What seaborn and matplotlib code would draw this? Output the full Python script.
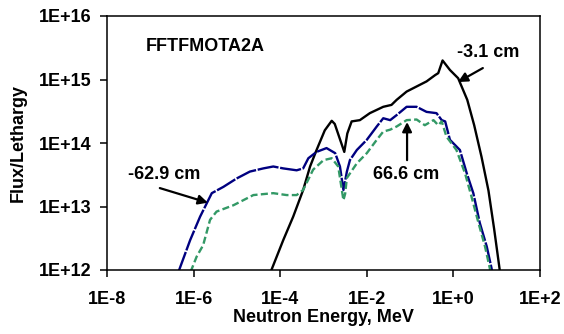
import numpy as np
import pandas as pd
import matplotlib
matplotlib.use("Agg")
import matplotlib.pyplot as plt
import seaborn as sns

# ---- data (log10 of energy in MeV, log10 of flux/lethargy) ----
black_logE = [-4.22, -3.93, -3.70, -3.47, -3.31, -3.16, -2.97, -2.81, -2.74, -2.52,
              -2.45, -2.35, -2.16, -1.93, -1.62, -1.43, -1.31, -1.08, -0.85, -0.62, -0.42,
              -0.35, -0.25, -0.08, 0.11, 0.32, 0.48, 0.65, 0.81, 0.94, 1.02, 1.08]
black_logF = [11.97, 12.47, 12.84, 13.26, 13.63, 13.89, 14.20, 14.35, 14.30, 13.86,
              14.15, 14.34, 14.36, 14.47, 14.57, 14.60, 14.68, 14.81, 14.89, 14.97, 15.07,
              15.10, 15.30, 15.15, 15.02, 14.68, 14.28, 13.78, 13.25, 12.65, 12.25, 11.95]

blue_logE = [-6.35, -6.08, -5.85, -5.58, -5.31, -5.01, -4.70, -4.39, -4.16, -3.93,
             -3.62, -3.47, -3.35, -3.16, -2.93, -2.73, -2.62, -2.54, -2.46, -2.39,
             -2.23, -2.00, -1.77, -1.62, -1.46, -1.31, -1.08, -0.85, -0.62, -0.39,
             -0.27, -0.19, -0.08, 0.15, 0.31, 0.46, 0.61, 0.77, 0.88, 0.90]
blue_logF = [11.97, 12.47, 12.84, 13.21, 13.31, 13.44, 13.55, 13.60, 13.63, 13.60,
             13.57, 13.60, 13.76, 13.86, 13.92, 13.84, 13.63, 13.26, 13.55, 13.73,
             13.89, 14.05, 14.26, 14.39, 14.36, 14.44, 14.57, 14.57, 14.49, 14.47,
             14.36, 14.34, 14.05, 13.89, 13.52, 13.21, 12.74, 12.37, 12.03, 11.95]

green_logE = [-6.07, -5.93, -5.78, -5.62, -5.47, -5.08, -4.62, -4.16, -3.85, -3.62,
              -3.47, -3.24, -3.00, -2.81, -2.66, -2.54, -2.50, -2.46, -2.39, -2.23,
              -2.00, -1.77, -1.62, -1.46, -1.31, -1.08, -0.85, -0.66, -0.46, -0.35,
              -0.27, -0.16, 0.07, 0.27, 0.42, 0.58, 0.73, 0.84, 0.86]
green_logF = [11.97, 12.21, 12.39, 12.79, 12.92, 13.02, 13.18, 13.21, 13.18, 13.18,
              13.26, 13.58, 13.73, 13.76, 13.63, 13.10, 13.20, 13.45, 13.52, 13.68,
              13.84, 14.05, 14.18, 14.21, 14.26, 14.36, 14.37, 14.28, 14.36, 14.28,
              14.34, 14.10, 13.89, 13.52, 13.15, 12.74, 12.37, 12.03, 11.95]

x_ticks = [1e-8, 1e-6, 1e-4, 1e-2, 1e0, 1e2]
x_tick_labels = ["1E-8", "1E-6", "1E-4", "1E-2", "1E+0", "1E+2"]
y_ticks = [1e12, 1e13, 1e14, 1e15, 1e16]
y_tick_labels = ["1E+12", "1E+13", "1E+14", "1E+15", "1E+16"]

series_names = ["-3.1 cm", "-62.9 cm", "66.6 cm"]

frames = []
for name, le, lf in zip(series_names,
                        [black_logE, blue_logE, green_logE],
                        [black_logF, blue_logF, green_logF]):
    frames.append(pd.DataFrame({"energy": 10.0 ** np.array(le),
                                "flux": 10.0 ** np.array(lf),
                                "series": name}))
df = pd.concat(frames, ignore_index=True)

# ---- style ----
sns.set_style("ticks")
plt.rcParams["font.family"] = ["Liberation Sans", "DejaVu Sans"]
plt.rcParams["font.weight"] = "bold"
plt.rcParams["axes.labelweight"] = "bold"
plt.rcParams["text.color"] = "black"
plt.rcParams["axes.labelcolor"] = "black"
plt.rcParams["xtick.color"] = "black"
plt.rcParams["ytick.color"] = "black"
plt.rcParams["xtick.labelcolor"] = "black"
plt.rcParams["ytick.labelcolor"] = "black"

fig = plt.figure(figsize=(5.64, 3.34), dpi=100)
ax = fig.add_axes([107 / 564, 1 - 270 / 334, 433 / 564, 254 / 334])

styles = {
    "-3.1 cm": dict(color="black", dashes=None),
    "-62.9 cm": dict(color="#000080", dashes=(9, 0.7)),
    "66.6 cm": dict(color="#339966", dashes=(3, 1.4)),
}
for name in series_names:
    sub = df[df["series"] == name]
    st = styles[name]
    sns.lineplot(data=sub, x="energy", y="flux", ax=ax, sort=False,
                 estimator=None, color=st["color"], linewidth=1.7)
    if st["dashes"] is not None:
        ax.lines[-1].set_dashes(st["dashes"])

ax.set_xscale("log")
ax.set_yscale("log")
ax.set_xlim(1e-8, 1e2)
ax.set_ylim(1e12, 1e16)
ax.set_xticks(x_ticks)
ax.set_xticklabels(x_tick_labels)
ax.set_yticks(y_ticks)
ax.set_yticklabels(y_tick_labels)
ax.minorticks_off()
ax.tick_params(axis="both", which="major", direction="out", length=5, width=1.1,
               labelsize=13, color="black", labelcolor="black")
ax.tick_params(axis="x", pad=10)
ax.tick_params(axis="y", pad=6)
for sp in ax.spines.values():
    sp.set_visible(True)
    sp.set_color("black")
    sp.set_linewidth(1.1)

ax.set_xlabel("Neutron Energy, MeV", fontsize=13, fontweight="bold", labelpad=1,
              color="black")
ax.set_ylabel("Flux/Lethargy", fontsize=13, fontweight="bold", labelpad=9,
              color="black")

# ---- annotations ----
ax.text(0.09, 0.878, "FFTFMOTA2A", transform=ax.transAxes, fontsize=13,
        fontweight="bold", ha="left", va="center", color="black")

arrow = dict(arrowstyle="-|>", color="black", lw=1.6, mutation_scale=14,
             shrinkA=0, shrinkB=0)
ax.text(10 ** -5.85, 10 ** 13.50, "-62.9 cm", fontsize=13, fontweight="bold",
        ha="right", va="center", color="black")
ax.annotate("", xy=(10 ** -5.67, 10 ** 13.06), xytext=(10 ** -6.78, 10 ** 13.29),
            arrowprops=arrow)

ax.text(10 ** -1.09, 10 ** 13.50, "66.6 cm", fontsize=13, fontweight="bold",
        ha="center", va="center", color="black")
ax.annotate("", xy=(10 ** -1.07, 10 ** 14.33), xytext=(10 ** -1.07, 10 ** 13.73),
            arrowprops=arrow)

ax.text(10 ** 0.08, 10 ** 15.42, "-3.1 cm", fontsize=13, fontweight="bold",
        ha="left", va="center", color="black")
ax.annotate("", xy=(10 ** 0.106, 10 ** 14.96), xytext=(10 ** 0.68, 10 ** 15.18),
            arrowprops=arrow)

fig.savefig("out.png", dpi=100)
